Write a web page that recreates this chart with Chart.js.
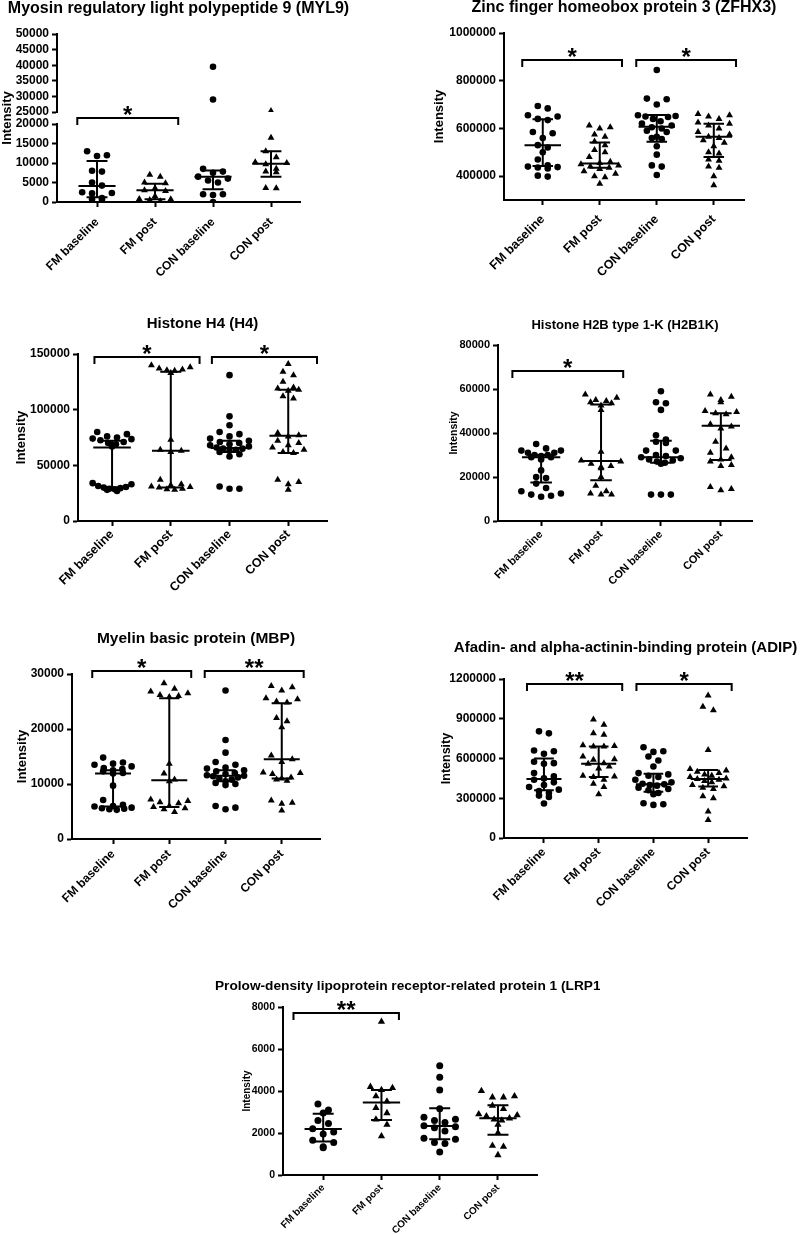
<!DOCTYPE html>
<html>
<head>
<meta charset="utf-8">
<script src="https://cdn.jsdelivr.net/npm/chart.js@4.4.1/dist/chart.umd.min.js"></script>
<style>
  html, body { margin: 0; padding: 0; background: #fff; }
  body { position: relative; width: 800px; height: 1235px; overflow: hidden; }
  canvas { position: absolute; }
</style>
</head>
<body>
<canvas id="myl9"></canvas>
<canvas id="zfhx3"></canvas>
<canvas id="h4"></canvas>
<canvas id="h2b1k"></canvas>
<canvas id="mbp"></canvas>
<canvas id="adip"></canvas>
<canvas id="lrp1"></canvas>
<script>
const groups = ['FM baseline', 'FM post', 'CON baseline', 'CON post'];
const yLabel = 'Intensity';

// MYL9 (broken y axis)
const myl9Values = [
  [13000, 12000, 11800, 8000, 7800, 5000, 4200, 2500, 2300, 2200, 1000, 700, 600],
  [7000, 6500, 5000, 4800, 3500, 3000, 2800, 1500, 800, 700, 500, 200],
  [39500, 29000, 8500, 7800, 7500, 6500, 6000, 5500, 5000, 2000, 2000, 1800, 0],
  [25300, 16500, 13000, 11500, 10200, 10000, 9700, 8500, 7800, 7600, 3600, 3500]
];
const myl9Median = [4100, 3000, 6500, 9800];
const myl9Q1 = [1200, 700, 3300, 6500];
const myl9Q3 = [10500, 4700, 8100, 13000];
const myl9TicksLow = [0, 5000, 10000, 15000, 20000];
const myl9TicksHigh = [25000, 30000, 35000, 40000, 45000, 50000];
const myl9Brackets = [[0, 1, 22400, '*']];

// ZFHX3
const zfhx3Values = [
  [694000, 684000, 655000, 650000, 640000, 635000, 585000, 580000, 560000, 530000, 520000, 500000, 470000, 445000, 440000, 438000, 436000, 432000, 402000, 398000],
  [612000, 605000, 600000, 575000, 565000, 545000, 530000, 510000, 500000, 480000, 460000, 455000, 450000, 445000, 440000, 435000, 430000, 420000, 410000, 400000, 395000, 368000],
  [845000, 725000, 722000, 700000, 655000, 652000, 650000, 648000, 640000, 630000, 620000, 612000, 605000, 600000, 590000, 585000, 565000, 560000, 555000, 525000, 490000, 445000, 440000, 405000],
  [660000, 655000, 650000, 640000, 625000, 620000, 612000, 600000, 585000, 575000, 565000, 560000, 550000, 540000, 525000, 500000, 495000, 470000, 465000, 440000, 435000, 400000, 362000]
];
const zfhx3Median = [529000, 453000, 607000, 565000];
const zfhx3Q1 = [443000, 435000, 544000, 480000];
const zfhx3Q3 = [638000, 541000, 656000, 620000];
const zfhx3Ticks = [400000, 600000, 800000, 1000000];
const zfhx3Brackets = [[0, 1, 886000, '*'], [2, 3, 886000, '*']];

// H4
const h4Values = [
  [80000, 78000, 76000, 75000, 74000, 73500, 72500, 71000, 70000, 69000, 67000, 34000, 33000, 31500, 30500, 30000, 29500, 29000, 28500, 28000, 27000],
  [140000, 138000, 137000, 136000, 135500, 135000, 133000, 73000, 64000, 63000, 62000, 37000, 33000, 32000, 31000, 30500, 30000, 29000, 28500, 28000],
  [131000, 94000, 86000, 80000, 78000, 76000, 74000, 72000, 71000, 70000, 69000, 68000, 67000, 66000, 65000, 65000, 64000, 63000, 62000, 60000, 58000, 31000, 29000, 29000],
  [141000, 134000, 131000, 125000, 120000, 119000, 118000, 117000, 112000, 110000, 79000, 77000, 76000, 72000, 70000, 68000, 66000, 64000, 62000, 61000, 37000, 35000, 33000, 28000]
];
const h4Median = [66000, 63000, 65500, 76500];
const h4Q1 = [30000, 30000, 62000, 61000];
const h4Q3 = [72000, 134000, 72000, 118000];
const h4Ticks = [0, 50000, 100000, 150000];
const h4Brackets = [[0, 1, 147600, '*'], [2, 3, 147600, '*']];

// H2B1K
const h2b1kValues = [
  [35000, 33000, 32000, 32000, 31000, 31000, 30000, 30000, 29500, 29000, 29000, 28000, 23000, 20000, 19500, 17000, 15000, 13500, 12500, 12000, 11500, 11000],
  [57500, 56000, 55000, 54500, 54000, 53500, 52500, 50500, 31500, 27500, 27000, 26000, 25000, 24500, 24000, 20000, 16000, 13500, 12500, 12000, 12000],
  [59000, 54000, 53500, 50500, 39000, 37000, 36000, 35500, 32000, 32000, 30000, 29500, 29000, 28500, 28000, 27500, 27000, 26500, 26000, 12000, 12000, 12000],
  [57500, 56500, 55000, 54000, 50000, 49500, 49000, 48500, 44000, 43000, 42000, 36000, 33000, 31000, 29000, 28000, 27000, 25500, 25000, 15500, 14500, 14000]
];
const h2b1kMedian = [29000, 27300, 29000, 43300];
const h2b1kQ1 = [17500, 18500, 26500, 27700];
const h2b1kQ3 = [30000, 53000, 36500, 49000];
const h2b1kTicks = [0, 20000, 40000, 60000, 80000];
const h2b1kBrackets = [[0, 1, 68200, '*']];

// MBP
const mbpValues = [
  [14800, 13900, 13700, 13500, 13200, 12900, 12700, 12500, 12300, 12000, 11900, 9700, 7100, 6200, 6000, 5900, 5700, 5600, 5500, 5400, 5300],
  [28300, 27300, 26800, 26500, 26200, 26000, 25800, 13700, 11900, 10800, 10500, 7200, 6900, 6700, 6500, 6000, 5800, 5600, 5400, 4900],
  [27000, 18000, 15700, 14000, 13500, 13000, 12800, 12500, 12300, 12000, 11800, 11600, 11500, 11400, 11200, 11000, 10800, 10500, 10200, 10000, 9800, 6000, 5700, 5400],
  [27800, 27600, 27000, 25600, 25400, 25000, 24800, 22000, 21400, 20300, 15200, 14500, 14000, 12100, 12000, 11800, 11200, 11000, 10800, 10600, 7000, 6600, 6400, 5200]
];
const mbpMedian = [11900, 10700, 11500, 14500];
const mbpQ1 = [5900, 5800, 10500, 11000];
const mbpQ3 = [12500, 25600, 12500, 24700];
const mbpTicks = [0, 10000, 20000, 30000];
const mbpBrackets = [[0, 1, 30500, '*'], [2, 3, 30500, '**']];

// ADIP
const adipValues = [
  [805000, 790000, 660000, 655000, 635000, 575000, 565000, 560000, 490000, 465000, 450000, 440000, 420000, 400000, 385000, 365000, 355000, 340000, 320000, 310000, 260000],
  [895000, 855000, 790000, 780000, 700000, 695000, 690000, 690000, 615000, 595000, 590000, 565000, 560000, 540000, 525000, 470000, 465000, 460000, 440000, 410000, 385000, 330000],
  [685000, 655000, 650000, 615000, 585000, 540000, 490000, 480000, 470000, 460000, 440000, 420000, 410000, 405000, 400000, 395000, 380000, 370000, 360000, 340000, 330000, 262000, 255000, 250000],
  [1075000, 990000, 965000, 665000, 520000, 510000, 500000, 490000, 480000, 470000, 460000, 450000, 445000, 440000, 430000, 420000, 400000, 390000, 380000, 370000, 315000, 300000, 200000, 135000]
];
const adipMedian = [445000, 560000, 405000, 445000];
const adipQ1 = [360000, 460000, 350000, 388000];
const adipQ3 = [600000, 690000, 485000, 514000];
const adipTicks = [0, 300000, 600000, 900000, 1200000];
const adipBrackets = [[0, 1, 1162500, '**'], [2, 3, 1162500, '*']];

// LRP1
const lrp1Values = [
  [3380, 3100, 2950, 2600, 2450, 2200, 2050, 1950, 1650, 1550, 1350, 1300],
  [7300, 4200, 4150, 4050, 3750, 3500, 3200, 2950, 2650, 2400, 1850],
  [5200, 4650, 4050, 3150, 2750, 2650, 2600, 2500, 2350, 2300, 2250, 2100, 1750, 1700, 1550, 1500, 1100],
  [4000, 3750, 3700, 3700, 3300, 3150, 2900, 2850, 2800, 2700, 2650, 2600, 2400, 2000, 1400, 1350, 950]
];
const lrp1Median = [2190, 3450, 2330, 2700];
const lrp1Q1 = [1600, 2620, 1700, 1920];
const lrp1Q3 = [2920, 4050, 3180, 3320];
const lrp1Ticks = [0, 2000, 4000, 6000, 8000];
const lrp1Brackets = [[0, 1, 7730, '**']];

const family = "'Liberation Sans', Arial, Helvetica, sans-serif";
const font = size => ({family, size, weight: 'bold'});

const panels = [
  {id: 'myl9', title: 'Myosin regulatory light polypeptide 9 (MYL9)',
   values: myl9Values, median: myl9Median, q1: myl9Q1, q3: myl9Q3, brackets: myl9Brackets,
   axes: [
     {id: 'y', min: 0, max: 20000, ticks: myl9TicksLow, weight: 78},
     {id: 'yGap', min: 20000, max: 25000, ticks: [], weight: 12, gap: true, label: true},
     {id: 'yTop', min: 25000, max: 50000, ticks: myl9TicksHigh, weight: 78}
   ],
   statAxis: 'y', bracketAxis: 'yGap',
   left: 0, top: 0, w: 360, h: 300, yw: 57, pt: 34, pr: 60, xh: 98, xMin: -0.69, xMax: 3.5,
   titleY: 9, titleSize: 16, tickSize: 12, catSize: 12, catPad: 8, labelSize: 13, labelPad: 0,
   brL: 0.34, brR: 0.4, rc: 3.3, rt: 4},
  {id: 'zfhx3', title: 'Zinc finger homeobox protein 3 (ZFHX3)',
   values: zfhx3Values, median: zfhx3Median, q1: zfhx3Q1, q3: zfhx3Q3, brackets: zfhx3Brackets,
   axes: [{id: 'y', min: 300000, max: 1000000, ticks: zfhx3Ticks, label: true}],
   left: 400, top: 0, w: 400, h: 300, yw: 104, pt: 33, pr: 56, xh: 100, xMin: -0.68, xMax: 3.53,
   titleY: 8, titleSize: 16, tickSize: 12, catSize: 12.5, catPad: 7, labelSize: 13, labelPad: 32,
   brL: 0.36, brR: 0.39, rc: 3.3, rt: 4},
  {id: 'h4', title: 'Histone H4 (H4)',
   values: h4Values, median: h4Median, q1: h4Q1, q3: h4Q3, brackets: h4Brackets,
   axes: [{id: 'y', min: 0, max: 150000, ticks: h4Ticks, label: true}],
   left: 0, top: 300, w: 400, h: 300, yw: 78, pt: 54, pr: 73, xh: 79, xMin: -0.58, xMax: 3.66,
   titleY: 24, titleSize: 15, tickSize: 12, catSize: 12.5, catPad: 1, labelSize: 13, labelPad: 14,
   brL: 0.3, brR: 0.49, rc: 3.3, rt: 4},
  {id: 'h2b1k', title: 'Histone H2B type 1-K (H2B1K)',
   values: h2b1kValues, median: h2b1kMedian, q1: h2b1kQ1, q3: h2b1kQ3, brackets: h2b1kBrackets,
   axes: [{id: 'y', min: 0, max: 80000, ticks: h2b1kTicks, label: true}],
   left: 400, top: 300, w: 400, h: 300, yw: 98, pt: 45, pr: 48, xh: 79, xMin: -0.72, xMax: 3.52,
   titleY: 25, titleSize: 13, tickSize: 11, catSize: 11, catPad: 2, labelSize: 10.5, labelPad: 48,
   brL: 0.48, brR: 0.37, rc: 3.3, rt: 4},
  {id: 'mbp', title: 'Myelin basic protein (MBP)',
   values: mbpValues, median: mbpMedian, q1: mbpQ1, q3: mbpQ3, brackets: mbpBrackets,
   axes: [{id: 'y', min: 0, max: 30000, ticks: mbpTicks, label: true}],
   left: 0, top: 610, w: 400, h: 300, yw: 72, pt: 64, pr: 80, xh: 71, xMin: -0.73, xMax: 3.68,
   titleY: 29, titleSize: 15.5, tickSize: 12, catSize: 12, catPad: 3, labelSize: 13, labelPad: 15,
   brL: 0.37, brR: 0.39, rc: 3.3, rt: 4},
  {id: 'adip', title: 'Afadin- and alpha-actinin-binding protein (ADIP)',
   values: adipValues, median: adipMedian, q1: adipQ1, q3: adipQ3, brackets: adipBrackets,
   axes: [{id: 'y', min: 0, max: 1200000, ticks: adipTicks, label: true}],
   left: 400, top: 610, w: 400, h: 300, yw: 104, pt: 69, pr: 53, xh: 72, xMin: -0.73, xMax: 3.71,
   titleY: 38, titleSize: 15, tickSize: 12, catSize: 12, catPad: 2, labelSize: 12.5, labelPad: 39,
   brL: 0.31, brR: 0.43, rc: 3.3, rt: 4},
  {id: 'lrp1', title: 'Prolow-density lipoprotein receptor-related protein 1 (LRP1)',
   values: lrp1Values, median: lrp1Median, q1: lrp1Q1, q3: lrp1Q3, brackets: lrp1Brackets,
   axes: [{id: 'y', min: 0, max: 8000, ticks: lrp1Ticks, label: true}],
   left: 200, top: 920, w: 400, h: 315, yw: 83, pt: 87, pr: 63, xh: 60, xMin: -0.69, xMax: 3.67,
   titleY: 66, titleSize: 13.7, tickSize: 10.5, catSize: 10, catPad: 2, labelSize: 10, labelPad: 41,
   brL: 0.51, brR: 0.3, rc: 3.5, rt: 4.2}
];

// title, median + IQR bars, significance brackets
function overlay(p) {
  return {
    id: 'overlay_' + p.id,
    afterDatasetsDraw(chart) {
      const {ctx, chartArea} = chart;
      const xs = chart.scales.x;
      const unit = xs.getPixelForValue(1) - xs.getPixelForValue(0);
      const ys = chart.scales[p.statAxis || 'y'];
      ctx.save();
      ctx.strokeStyle = '#000';
      ctx.fillStyle = '#000';
      ctx.lineWidth = 2;
      p.median.forEach((m, g) => {
        const cx = xs.getPixelForValue(g);
        const yMed = ys.getPixelForValue(m);
        const y1 = ys.getPixelForValue(p.q1[g]);
        const y3 = ys.getPixelForValue(p.q3[g]);
        const hm = unit * 0.32, hc = unit * 0.18;
        ctx.beginPath();
        ctx.moveTo(cx, y1); ctx.lineTo(cx, y3);
        ctx.moveTo(cx - hm, yMed); ctx.lineTo(cx + hm, yMed);
        ctx.moveTo(cx - hc, y1); ctx.lineTo(cx + hc, y1);
        ctx.moveTo(cx - hc, y3); ctx.lineTo(cx + hc, y3);
        ctx.stroke();
      });
      const bs = chart.scales[p.bracketAxis || 'y'];
      p.brackets.forEach(b => {
        const y = Math.round(bs.getPixelForValue(b[2]));
        const x0 = xs.getPixelForValue(b[0] - p.brL);
        const x1 = xs.getPixelForValue(b[1] + p.brR);
        ctx.beginPath();
        ctx.moveTo(x0, y + 7); ctx.lineTo(x0, y); ctx.lineTo(x1, y); ctx.lineTo(x1, y + 7);
        ctx.stroke();
        ctx.font = 'bold 24px ' + family;
        ctx.textAlign = 'center';
        ctx.textBaseline = 'alphabetic';
        ctx.fillText(b[3], (x0 + x1) / 2, y + 5);
      });
      ctx.font = 'bold ' + p.titleSize + 'px ' + family;
      ctx.textAlign = 'center';
      ctx.textBaseline = 'middle';
      ctx.fillText(p.title, (chartArea.left + chartArea.right) / 2, p.titleY);
      ctx.restore();
    }
  };
}

// Prism-style column scatter: points of similar height share a row, centred on the
// column, the lowest point of a row in the middle so crowded rows bend like a smile
function swarm(chart, p) {
  const xs = chart.scales.x;
  const unit = xs.getPixelForValue(1) - xs.getPixelForValue(0);
  const cols = groups.map(() => []);
  chart.data.datasets.forEach(ds => {
    const sc = chart.scales[ds.yAxisID];
    ds.data.forEach(pt => cols[pt.g].push({pt, py: sc.getPixelForValue(pt.y)}));
  });
  cols.forEach((items, g) => {
    const d = g % 2 ? p.rt * 1.75 : p.rc * 2;
    const binH = d * 0.95;
    const maxW = unit * 0.66;
    items.sort((a, b) => a.py - b.py);
    const rows = [];
    items.forEach(it => {
      const row = rows[rows.length - 1];
      if (row && it.py - row[0].py < binH) row.push(it);
      else rows.push([it]);
    });
    rows.forEach(row => {
      const n = row.length;
      const step = n > 1 ? Math.min(d * 1.5, maxW / (n - 1)) : 0;
      const slots = row.map((_, i) => i - (n - 1) / 2).sort((a, b) => Math.abs(a) - Math.abs(b) || b - a);
      row.sort((a, b) => b.py - a.py);
      row.forEach((it, i) => { it.pt.x = g + slots[i] * step / unit; });
    });
  });
  chart.update('none');
}

function buildPanel(p) {
  const cv = document.getElementById(p.id);
  cv.width = p.w;
  cv.height = p.h;
  cv.style.left = p.left + 'px';
  cv.style.top = p.top + 'px';

  const dataAxes = p.axes.filter(a => !a.gap);
  const axisOf = v => dataAxes.find(a => v >= a.min && v <= a.max).id;
  const datasets = [];
  p.values.forEach((vals, g) => {
    dataAxes.forEach(a => {
      const pts = vals.filter(v => axisOf(v) === a.id).map(v => ({x: g, y: v, g}));
      if (!pts.length) return;
      datasets.push({
        data: pts,
        yAxisID: a.id,
        pointStyle: g % 2 ? 'triangle' : 'circle',
        pointRadius: g % 2 ? p.rt : p.rc,
        backgroundColor: '#000',
        borderColor: '#000',
        borderWidth: 0,
        showLine: false
      });
    });
  });

  const scales = {
    x: {
      type: 'linear', position: 'bottom', min: p.xMin, max: p.xMax,
      afterBuildTicks: s => { s.ticks = groups.map((_, i) => ({value: i})); },
      afterFit: s => { s.height = p.xh; },
      ticks: {font: font(p.catSize), color: '#000', minRotation: 45, maxRotation: 45, padding: p.catPad,
              autoSkip: false, callback: v => groups[v]},
      grid: {drawOnChartArea: false, tickLength: 5, tickWidth: 2, tickColor: '#000'},
      border: {color: '#000', width: 2}
    }
  };
  p.axes.forEach(a => {
    scales[a.id] = {
      type: 'linear', position: 'left', min: a.min, max: a.max,
      stack: p.axes.length > 1 ? 'v' : undefined,
      stackWeight: a.weight || 1,
      afterBuildTicks: s => { s.ticks = a.ticks.map(v => ({value: v})); },
      afterFit: s => { s.width = p.yw; },
      ticks: {display: !a.gap, font: font(p.tickSize), color: '#000', padding: 3, autoSkip: false,
              callback: v => String(v)},
      grid: {display: !a.gap, drawOnChartArea: false, tickLength: 5, tickWidth: 2, tickColor: '#000'},
      border: {display: !a.gap, color: '#000', width: 2},
      title: {display: !!a.label, text: yLabel, font: font(p.labelSize), color: '#000',
              padding: {top: p.labelPad, bottom: 0}}
    };
  });

  const chart = new Chart(cv, {
    type: 'scatter',
    data: {datasets},
    options: {
      responsive: false,
      animation: false,
      events: [],
      layout: {padding: {left: 0, top: p.pt, right: p.pr, bottom: 0}},
      plugins: {legend: {display: false}, tooltip: {enabled: false}},
      scales
    },
    plugins: [overlay(p)]
  });
  swarm(chart, p);
}

panels.forEach(buildPanel);
</script>
</body>
</html>
